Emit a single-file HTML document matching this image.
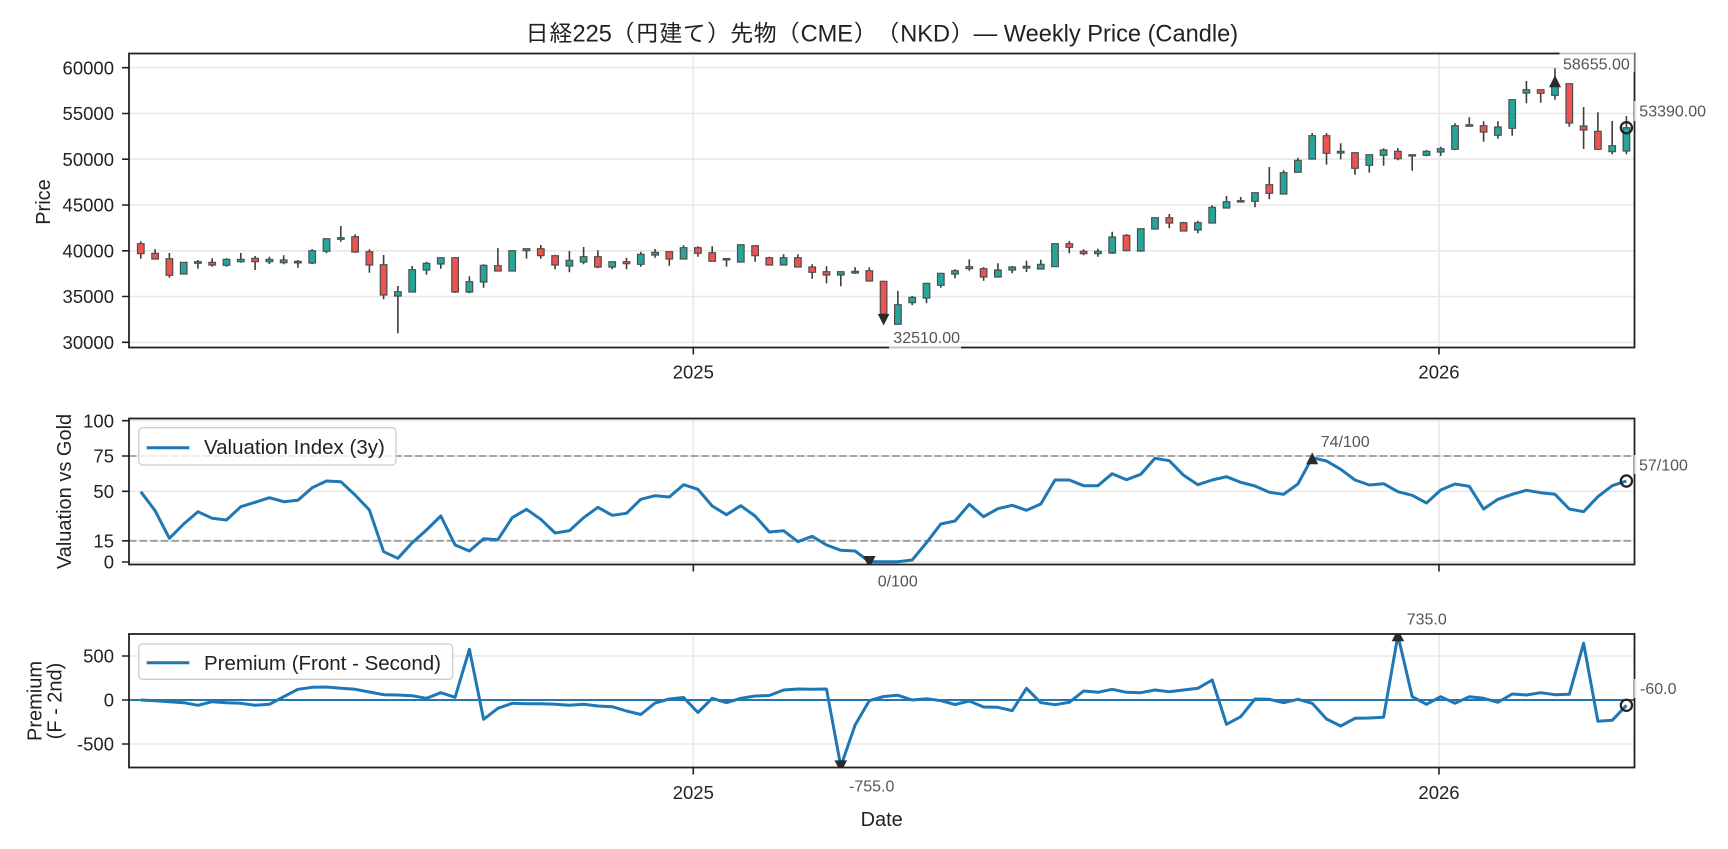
<!DOCTYPE html>
<html><head><meta charset="utf-8"><style>
html,body{margin:0;padding:0;background:#fff;}
svg{display:block;}
text{font-family:"Liberation Sans","IPAGothic",sans-serif;}
</style></head><body>
<svg width="1728" height="849" viewBox="0 0 1728 849" xmlns="http://www.w3.org/2000/svg">
<defs>
<clipPath id="c1"><rect x="129" y="53.5" width="1505.5" height="294"/></clipPath>
<clipPath id="c2"><rect x="129" y="418.5" width="1505.5" height="146"/></clipPath>
<clipPath id="c3"><rect x="129" y="634" width="1505.5" height="133.5"/></clipPath>
</defs>
<rect x="0" y="0" width="1728" height="849" fill="#fff"/>

<!-- Title -->
<text x="881.7" y="41.5" font-size="23.6" text-anchor="middle" fill="#222">日経225（円建て）先物（CME）（NKD）— Weekly Price (Candle)</text>

<!-- ===== Panel 1 ===== -->
<g stroke="#e8e8e8" stroke-width="1.6">
<path d="M129 67.7H1634.5M129 113.5H1634.5M129 159.2H1634.5M129 205H1634.5M129 250.8H1634.5M129 296.5H1634.5M129 342.3H1634.5M693.3 53.5V347.5M1439 53.5V347.5"/>
</g>
<g clip-path="url(#c1)">
<path fill="none" stroke="#3d3d3d" stroke-width="1.6" d="M140.8 241.3V258.7M155.1 249.3V259M169.4 253V277.7M183.7 262.3V274M197.9 260V268.7M212.2 258.3V266.7M226.5 258.3V266.7M240.8 253V262.7M255.1 256V270M269.4 256.7V264M283.7 255.3V264.3M297.9 260V267.7M312.2 249.3V264M326.5 238.3V253.3M340.8 226V241.7M355.1 234.3V252.7M369.4 249.3V272.7M383.6 255V299.3M397.9 286V333.3M412.2 266V292M426.5 261.7V274.7M440.8 257.7V268.7M455.1 257.7V293M469.4 276.3V293.3M483.6 264.3V287.7M497.9 248V271M512.2 250.7V271M526.5 248.7V258.7M540.8 245V258.7M555.1 254.7V269.3M569.4 251V272.3M583.6 247V264.3M597.9 250.3V268.3M612.2 261.7V269.3M626.5 257.7V269.3M640.8 251.7V266.7M655.1 249V257.7M669.3 251.7V265.7M683.6 245.3V259.3M697.9 246.3V256.7M712.2 246.3V261.3M726.5 258.7V266.7M740.8 244.3V262M755.1 245.7V261.7M769.3 256.7V265M783.6 254.3V265M797.9 254.3V267M812.2 264.3V278.7M826.5 266.3V283.3M840.8 271.7V286.3M855.1 267.3V274M869.3 267.3V281M883.6 280.7V314M897.9 291V324.3M912.2 296V305.3M926.5 282.7V303.3M940.8 273.3V287.7M955 269.3V278.3M969.3 259.3V270.7M983.6 267V280.7M997.9 263.3V277M1012.2 266V273.3M1026.5 260.7V272M1040.8 259.7V269M1055 243.7V266.7M1069.3 241V253.3M1083.6 249.3V255.3M1097.9 248.7V256.7M1112.2 231.7V254M1126.5 234V251.3M1140.8 228.7V251.7M1155 217.7V229M1169.3 214V228.3M1183.6 221.7V231M1197.9 220.7V233.3M1212.2 205.3V223M1226.5 196V208M1240.7 197V202M1255 192.7V207.3M1269.3 167V199.3M1283.6 170.3V194M1297.9 157.7V172.3M1312.2 133V159M1326.5 133V164.7M1340.7 143.3V159.3M1355 152.7V174.7M1369.3 154.7V172.7M1383.6 148.3V165.7M1397.9 148V160.3M1412.2 154.7V170.7M1426.5 150V156.3M1440.7 146.7V156M1455 123.3V150.3M1469.3 117.3V126.3M1483.6 121.3V141.7M1497.9 121.3V138.7M1512.2 99.7V135.7M1526.4 81V103.3M1540.7 89.7V102.7M1555 68.3V99.7M1569.3 83.7V126.7M1583.6 107V149M1597.9 112.3V150M1612.2 121V154.3M1626.4 116V154.3"/>
<path fill="#ef5350" stroke="#4d4d4d" stroke-width="1.2" d="M137.5 243.7h6.6V253.7h-6.6ZM151.8 253.3h6.6V259h-6.6ZM166.1 258.7h6.6V275.3h-6.6ZM208.9 262.3h6.6V265h-6.6ZM251.8 258.3h6.6V261.7h-6.6ZM294.6 261.3h6.6V262.9h-6.6ZM351.8 236.7h6.6V252h-6.6ZM366.1 251.7h6.6V265h-6.6ZM380.3 264.7h6.6V295h-6.6ZM451.8 257.7h6.6V292h-6.6ZM494.6 265.7h6.6V271h-6.6ZM537.5 248.7h6.6V255.7h-6.6ZM551.8 255.7h6.6V265h-6.6ZM594.6 256.7h6.6V267h-6.6ZM623.2 261.7h6.6V263.7h-6.6ZM666 251.7h6.6V259h-6.6ZM694.6 247.7h6.6V253.3h-6.6ZM708.9 252.7h6.6V261.3h-6.6ZM751.8 245.7h6.6V255.7h-6.6ZM766 257.7h6.6V265h-6.6ZM794.6 257.7h6.6V267h-6.6ZM808.9 267h6.6V272.3h-6.6ZM823.2 271.7h6.6V275h-6.6ZM866 270.7h6.6V281h-6.6ZM880.3 281.3h6.6V314h-6.6ZM980.3 268.7h6.6V277h-6.6ZM1066 243.7h6.6V247.3h-6.6ZM1080.3 251.3h6.6V253.7h-6.6ZM1123.2 235.3h6.6V250.7h-6.6ZM1166 217.7h6.6V223h-6.6ZM1180.3 222.7h6.6V231h-6.6ZM1266 184.7h6.6V193.3h-6.6ZM1323.2 135.7h6.6V153.3h-6.6ZM1351.7 152.7h6.6V168.3h-6.6ZM1394.6 151.3h6.6V158.7h-6.6ZM1480.3 125.7h6.6V132h-6.6ZM1537.4 89.7h6.6V93.3h-6.6ZM1566 83.7h6.6V123h-6.6ZM1580.3 126h6.6V130h-6.6ZM1594.6 131.3h6.6V149.3h-6.6Z"/>
<path fill="#26a69a" stroke="#4d4d4d" stroke-width="1.2" d="M180.4 262.3h6.6V274h-6.6ZM194.6 261.7h6.6V263.3h-6.6ZM223.2 259.3h6.6V265.3h-6.6ZM237.5 259.3h6.6V261.7h-6.6ZM266.1 259.3h6.6V261.7h-6.6ZM280.4 260h6.6V262.7h-6.6ZM308.9 250.7h6.6V263h-6.6ZM323.2 238.7h6.6V251.3h-6.6ZM337.5 237.7h6.6V239.3h-6.6ZM394.6 291.7h6.6V296h-6.6ZM408.9 269.7h6.6V292h-6.6ZM423.2 263.3h6.6V270h-6.6ZM437.5 257.7h6.6V264h-6.6ZM466.1 281.7h6.6V292h-6.6ZM480.3 265.3h6.6V282h-6.6ZM508.9 250.7h6.6V271h-6.6ZM523.2 248.7h6.6V250.7h-6.6ZM566.1 260.3h6.6V266h-6.6ZM580.3 256.7h6.6V262h-6.6ZM608.9 261.7h6.6V267h-6.6ZM637.5 254.3h6.6V264.3h-6.6ZM651.8 252.3h6.6V255h-6.6ZM680.3 247.7h6.6V259h-6.6ZM723.2 258.6h6.6V259.9h-6.6ZM737.5 244.7h6.6V262h-6.6ZM780.3 257.7h6.6V265h-6.6ZM837.5 271.7h6.6V275h-6.6ZM851.8 271.3h6.6V273h-6.6ZM894.6 304.7h6.6V324.3h-6.6ZM908.9 297.3h6.6V302.7h-6.6ZM923.2 283.3h6.6V298h-6.6ZM937.5 273.3h6.6V285.3h-6.6ZM951.7 270.7h6.6V274h-6.6ZM966 266.7h6.6V268.7h-6.6ZM994.6 270h6.6V277h-6.6ZM1008.9 267h6.6V270h-6.6ZM1023.2 266.3h6.6V268h-6.6ZM1037.5 264.3h6.6V269h-6.6ZM1051.7 243.7h6.6V266.7h-6.6ZM1094.6 251.3h6.6V253.7h-6.6ZM1108.9 237h6.6V253h-6.6ZM1137.5 228.7h6.6V251h-6.6ZM1151.7 217.7h6.6V229h-6.6ZM1194.6 222.7h6.6V230h-6.6ZM1208.9 207.3h6.6V223h-6.6ZM1223.2 201.7h6.6V208h-6.6ZM1237.4 200.7h6.6V202h-6.6ZM1251.7 192.7h6.6V201.3h-6.6ZM1280.3 172.7h6.6V194h-6.6ZM1294.6 160.3h6.6V172.3h-6.6ZM1308.9 135.7h6.6V159h-6.6ZM1337.4 151.3h6.6V153h-6.6ZM1366 154.7h6.6V165.3h-6.6ZM1380.3 150h6.6V155.3h-6.6ZM1408.9 154.7h6.6V156h-6.6ZM1423.2 151.3h6.6V155.3h-6.6ZM1437.4 148.7h6.6V152h-6.6ZM1451.7 125.7h6.6V149.3h-6.6ZM1466 124.7h6.6V126.3h-6.6ZM1494.6 127h6.6V135.3h-6.6ZM1508.9 99.7h6.6V128.3h-6.6ZM1523.1 89.7h6.6V93h-6.6ZM1551.7 86.3h6.6V95.3h-6.6ZM1608.9 145.7h6.6V151.7h-6.6ZM1623.1 127.7h6.6V151h-6.6Z"/>
<!-- markers -->
<path fill="#2a2a2a" d="M877.8 314H889.4L883.6 325.5ZM1549 87.2H1561L1555 75.2Z"/>
<circle cx="1626.4" cy="127.7" r="5.6" fill="none" stroke="#222" stroke-width="2.2"/>
</g>
<rect x="129" y="53.5" width="1505.5" height="294" fill="none" stroke="#222" stroke-width="1.8"/>
<!-- ticks -->
<path stroke="#222" stroke-width="1.6" d="M122 67.7H129M122 113.5H129M122 159.2H129M122 205H129M122 250.8H129M122 296.5H129M122 342.3H129M693.3 347.5V354.5M1439 347.5V354.5"/>
<g font-size="18.5" fill="#222" text-anchor="end">
<text x="114" y="74.3">60000</text><text x="114" y="120.1">55000</text><text x="114" y="165.8">50000</text><text x="114" y="211.6">45000</text><text x="114" y="257.4">40000</text><text x="114" y="303.1">35000</text><text x="114" y="348.9">30000</text>
</g>
<g font-size="18.5" fill="#222" text-anchor="middle">
<text x="693.3" y="378.5">2025</text><text x="1439" y="378.5">2026</text>
</g>
<text transform="translate(50,202) rotate(-90)" font-size="20" text-anchor="middle" fill="#222">Price</text>
<!-- annotation boxes -->
<rect x="1559.5" y="51" width="75" height="21" fill="#fff" fill-opacity="0.72"/>
<rect x="889" y="326" width="72" height="23" fill="#fff" fill-opacity="0.72"/>
<rect x="1634" y="101" width="72" height="20" fill="#fff" fill-opacity="0.72"/>
<g font-size="16" fill="#555">
<text x="1563" y="69.3">58655.00</text>
<text x="893.3" y="343">32510.00</text>
<text x="1639.3" y="116.7">53390.00</text>
</g>

<!-- ===== Panel 2 ===== -->
<g stroke="#e8e8e8" stroke-width="1.6">
<path d="M129 420.7H1634.5M129 456H1634.5M129 491.3H1634.5M129 540.8H1634.5M129 562H1634.5M693.3 418.5V564.5M1439 418.5V564.5"/>
</g>
<path stroke="#9a9a9a" stroke-width="1.8" stroke-dasharray="7.4 3.2" d="M129 456H1634.5M129 540.8H1634.5"/>
<g clip-path="url(#c2)">
<polyline fill="none" stroke="#1f77b4" stroke-width="3" stroke-linejoin="round" points="140.8,491.7 155.1,510.7 169.4,538.3 183.7,524 197.9,511.7 212.2,518.3 226.5,520 240.8,506.7 255.1,502.3 269.4,497.7 283.7,501.7 297.9,500.3 312.2,487.7 326.5,481 340.8,481.7 355.1,495 369.4,510 383.6,551.7 397.9,558.3 412.2,542.7 426.5,530 440.8,516 455.1,545 469.4,551 483.6,538.7 497.9,539.7 512.2,517.7 526.5,509.3 540.8,519.3 555.1,533 569.4,530.7 583.6,517.7 597.9,507.3 612.2,515.3 626.5,513.3 640.8,499.3 655.1,495.7 669.3,497 683.6,484.7 697.9,489.3 712.2,506 726.5,514.7 740.8,505.7 755.1,516 769.3,532 783.6,530.7 797.9,541.7 812.2,536.3 826.5,545 840.8,550.3 855.1,551 869.3,561.7 883.6,561.7 897.9,561.7 912.2,560 926.5,542.7 940.8,524 955,521 969.3,504.3 983.6,516.7 997.9,508.7 1012.2,505.3 1026.5,510.3 1040.8,504 1055,480 1069.3,480 1083.6,485.7 1097.9,485.7 1112.2,473.7 1126.5,479.7 1140.8,474.3 1155,458.3 1169.3,460.7 1183.6,475.3 1197.9,484.7 1212.2,480 1226.5,476.7 1240.7,482.3 1255,486 1269.3,492.3 1283.6,494.3 1297.9,484 1312.2,457.7 1326.5,461 1340.7,469.3 1355,480 1369.3,485 1383.6,483.7 1397.9,491.7 1412.2,495.3 1426.5,503 1440.7,490 1455,484 1469.3,486.3 1483.6,509 1497.9,499.3 1512.2,494.3 1526.4,490.3 1540.7,492.7 1555,494.3 1569.3,509 1583.6,511.7 1597.9,496.7 1612.2,485.7 1626.4,481"/>
<path fill="#2a2a2a" d="M863 556H875.6L869.3 568ZM1306.2 464.2H1318.2L1312.2 452.4Z"/>
<circle cx="1626.4" cy="481" r="5.6" fill="none" stroke="#222" stroke-width="2.2"/>
</g>
<!-- legend 2 -->
<rect x="138.7" y="427.7" width="257.3" height="37.3" rx="4" fill="#fff" fill-opacity="0.8" stroke="#cccccc" stroke-width="1.3"/>
<path stroke="#1f77b4" stroke-width="3" d="M146.7 447.7H189.3"/>
<text x="204" y="454" font-size="20.5" fill="#222">Valuation Index (3y)</text>
<rect x="129" y="418.5" width="1505.5" height="146" fill="none" stroke="#222" stroke-width="1.8"/>
<path stroke="#222" stroke-width="1.6" d="M122 420.7H129M122 456H129M122 491.3H129M122 540.8H129M122 562H129M693.3 564.5V571.5M1439 564.5V571.5"/>
<g font-size="18.5" fill="#222" text-anchor="end">
<text x="114" y="427.3">100</text><text x="114" y="462.6">75</text><text x="114" y="497.9">50</text><text x="114" y="547.4">15</text><text x="114" y="568.6">0</text>
</g>
<text transform="translate(71,491.5) rotate(-90)" font-size="20" text-anchor="middle" fill="#222">Valuation vs Gold</text>
<rect x="1634" y="455" width="60" height="19" fill="#fff" fill-opacity="0.72"/>
<g font-size="16" fill="#555">
<text x="1320.7" y="447">74/100</text>
<text x="877.7" y="586.3">0/100</text>
<text x="1639" y="470.3">57/100</text>
</g>

<!-- ===== Panel 3 ===== -->
<g stroke="#e8e8e8" stroke-width="1.6">
<path d="M129 656H1634.5M129 700H1634.5M129 744H1634.5M693.3 634V767.5M1439 634V767.5"/>
</g>
<g clip-path="url(#c3)">
<path stroke="#1f77b4" stroke-width="1.9" d="M129 700H1634.5"/>
<polyline fill="none" stroke="#1f77b4" stroke-width="3" stroke-linejoin="round" points="140.8,700 155.1,700.7 169.4,701.7 183.7,702.7 197.9,705.3 212.2,701.7 226.5,702.7 240.8,703.3 255.1,705.3 269.4,704.3 283.7,696.7 297.9,689.3 312.2,687.3 326.5,687 340.8,688.3 355.1,689.3 369.4,692 383.6,694.7 397.9,695 412.2,695.7 426.5,698.3 440.8,692.7 455.1,697.3 469.4,649.3 483.6,719.3 497.9,708.3 512.2,703.3 526.5,703.7 540.8,703.7 555.1,704.3 569.4,705.3 583.6,704.3 597.9,706 612.2,706.7 626.5,711 640.8,714.5 655.1,703 669.3,699 683.6,697.5 697.9,712.5 712.2,698.3 726.5,702.7 740.8,698.3 755.1,696 769.3,695.5 783.6,690 797.9,689 812.2,689.3 826.5,689 840.8,766.4 855.1,725 869.3,700.7 883.6,696.5 897.9,695.3 912.2,700 926.5,698.7 940.8,700.7 955,704.5 969.3,701 983.6,707 997.9,707.3 1012.2,710.7 1026.5,688.3 1040.8,702.7 1055,704.7 1069.3,702.3 1083.6,691 1097.9,692.3 1112.2,689.3 1126.5,692.3 1140.8,692.7 1155,690 1169.3,691.7 1183.6,690 1197.9,688.3 1212.2,680 1226.5,724.3 1240.7,716.7 1255,699 1269.3,699.3 1283.6,702.7 1297.9,699.3 1312.2,703.3 1326.5,719 1340.7,726 1355,718.3 1369.3,718 1383.6,717.3 1397.9,635.3 1412.2,696.7 1426.5,704.3 1440.7,696.7 1455,703.3 1469.3,696.7 1483.6,698.3 1497.9,702.3 1512.2,694 1526.4,695 1540.7,692.7 1555,694.7 1569.3,694.3 1583.6,643.3 1597.9,721.3 1612.2,720.3 1626.4,705.3"/>
<path fill="#2a2a2a" d="M834.5 760.4H847.1L840.8 772.4ZM1391.6 641.3H1404.2L1397.9 629.3Z"/>
<circle cx="1626.4" cy="705.3" r="5.6" fill="none" stroke="#222" stroke-width="2.2"/>
</g>
<!-- legend 3 -->
<rect x="138.7" y="644" width="314" height="35.3" rx="4" fill="#fff" fill-opacity="0.8" stroke="#cccccc" stroke-width="1.3"/>
<path stroke="#1f77b4" stroke-width="3" d="M146.7 662.7H189.3"/>
<text x="204" y="670" font-size="20.5" fill="#222">Premium (Front - Second)</text>
<rect x="129" y="634" width="1505.5" height="133.5" fill="none" stroke="#222" stroke-width="1.8"/>
<path stroke="#222" stroke-width="1.6" d="M122 656H129M122 700H129M122 744H129M693.3 767.5V774.5M1439 767.5V774.5"/>
<g font-size="18.5" fill="#222" text-anchor="end">
<text x="114" y="662.6">500</text><text x="114" y="706.6">0</text><text x="114" y="750.6">-500</text>
</g>
<g font-size="18.5" fill="#222" text-anchor="middle">
<text x="693.3" y="799">2025</text><text x="1439" y="799">2026</text>
</g>
<text transform="translate(41.5,701) rotate(-90)" font-size="20" text-anchor="middle" fill="#222">Premium</text>
<text transform="translate(61.5,701) rotate(-90)" font-size="20" text-anchor="middle" fill="#222">(F - 2nd)</text>
<text x="881.7" y="826" font-size="20" text-anchor="middle" fill="#222">Date</text>
<rect x="1634" y="679" width="46" height="19" fill="#fff" fill-opacity="0.72"/>
<g font-size="16" fill="#555">
<text x="1406.7" y="624.3">735.0</text>
<text x="849" y="791.5">-755.0</text>
<text x="1640" y="694">-60.0</text>
</g>
</svg>
</body></html>
